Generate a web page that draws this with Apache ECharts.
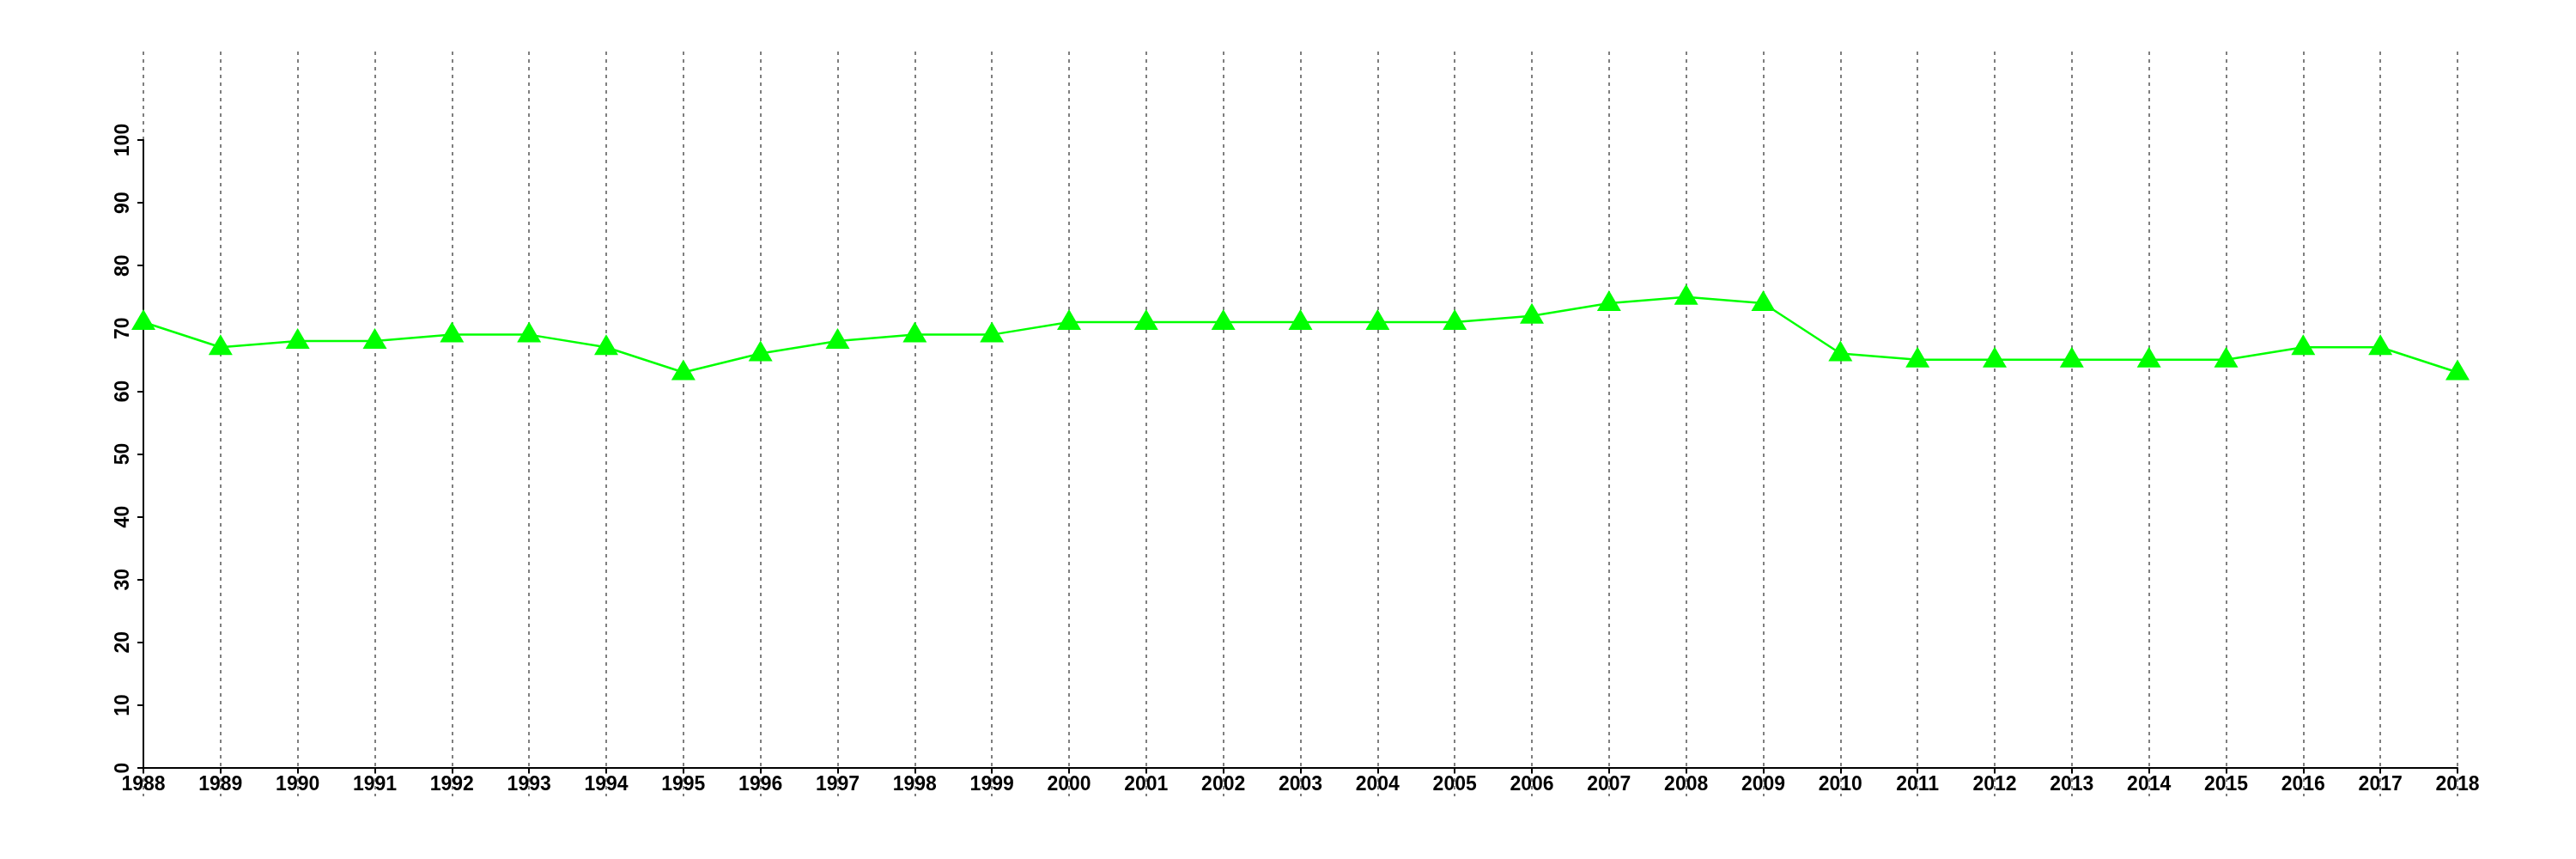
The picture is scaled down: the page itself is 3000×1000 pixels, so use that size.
<!DOCTYPE html>
<html>
<head>
<meta charset="utf-8">
<script src="https://cdn.jsdelivr.net/npm/echarts@6/dist/echarts.min.js"></script>
<style>html,body{margin:0;padding:0;background:#fff}#c{width:3000px;height:1000px}</style>
</head>
<body>
<div id="c"></div>
<script>
const years = ['1988','1989','1990','1991','1992','1993','1994','1995','1996','1997','1998','1999','2000','2001','2002','2003','2004','2005','2006','2007','2008','2009','2010','2011','2012','2013','2014','2015','2016','2017','2018'];
const values = [71,67,68,68,69,69,67,63,66,68,69,69,71,71,71,71,71,71,72,74,75,74,66,65,65,65,65,65,67,67,63];
const yMin = 0, yMax = 100, yStep = 10;

const font = '"Liberation Sans", Arial, sans-serif';
const chart = echarts.init(document.getElementById('c'), null, {renderer: 'canvas'});
chart.setOption({
  animation: false,
  backgroundColor: '#ffffff',
  grid: [
    {left: 167, right: 138, top: 163, bottom: 106},
    {left: 167, right: 138, top: 60, bottom: 73}
  ],
  xAxis: [
    {
      type: 'category', data: years, boundaryGap: false, gridIndex: 0,
      axisLine: {lineStyle: {color: '#000', width: 2}},
      axisTick: {show: true, alignWithLabel: true, length: 6, lineStyle: {color: '#000', width: 2}},
      axisLabel: {color: '#000', fontFamily: font, fontWeight: 'bold', fontSize: 23, margin: 8, interval: 0},
      splitLine: {show: false}
    },
    {
      type: 'category', data: years, boundaryGap: false, gridIndex: 1,
      axisLine: {show: false}, axisTick: {show: false}, axisLabel: {show: false},
      splitLine: {show: true, interval: 0, lineStyle: {color: '#7f7f7f', width: 2, type: [4, 5]}}
    }
  ],
  yAxis: [
    {
      type: 'value', min: yMin, max: yMax, interval: yStep, gridIndex: 0,
      axisLine: {show: true, lineStyle: {color: '#000', width: 2}},
      axisTick: {show: true, length: 7, lineStyle: {color: '#000', width: 2}},
      axisLabel: {color: '#000', fontFamily: font, fontWeight: 'bold', fontSize: 23, rotate: 90, margin: 12},
      splitLine: {show: false}
    },
    {
      type: 'value', gridIndex: 1, min: 0, max: 1,
      axisLine: {show: false}, axisTick: {show: false}, axisLabel: {show: false}, splitLine: {show: false}
    }
  ],
  series: [
    {
      type: 'line', data: values, xAxisIndex: 0, yAxisIndex: 0,
      lineStyle: {color: '#00ff00', width: 2.5},
      itemStyle: {color: '#00ff00'},
      symbol: 'triangle', symbolSize: [28, 24], symbolOffset: [0, -3],
      showSymbol: true, z: 3
    }
  ]
});
</script>
</body>
</html>
